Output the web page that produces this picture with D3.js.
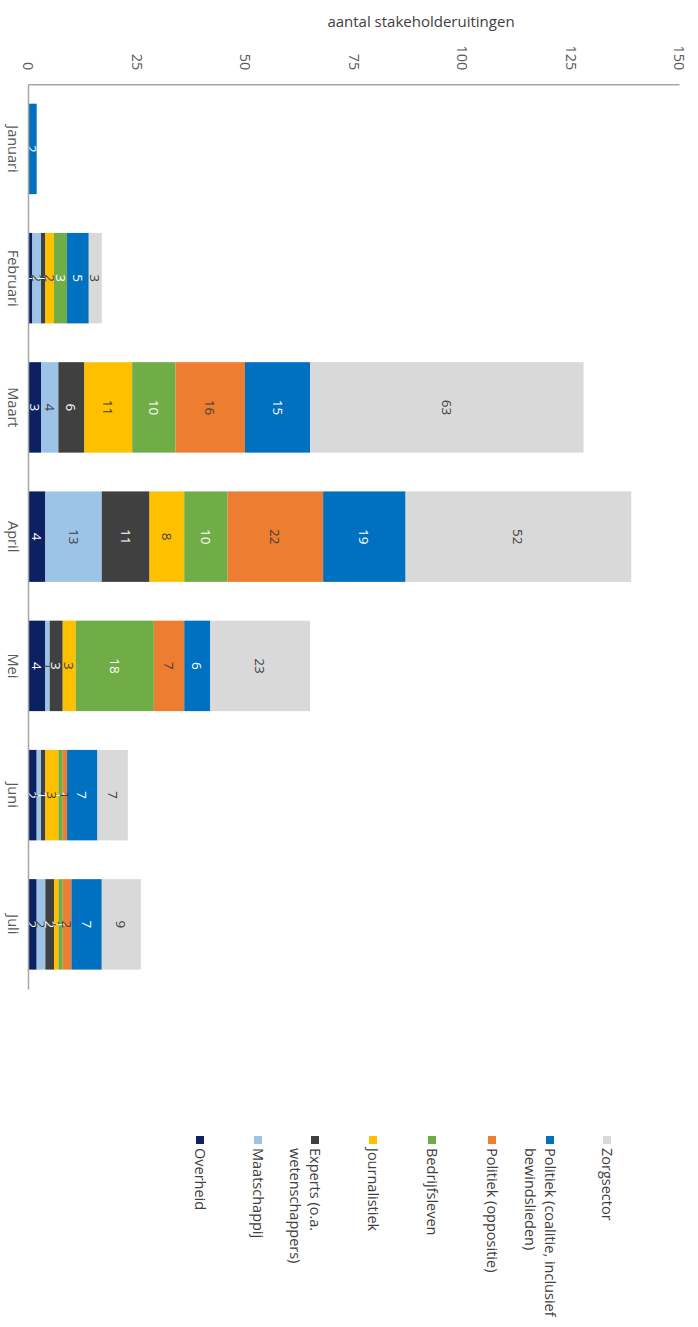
<!DOCTYPE html>
<html>
<head>
<meta charset="utf-8">
<script src="https://cdn.jsdelivr.net/npm/d3@7"></script>
<style>
  html, body { margin: 0; padding: 0; background: #ffffff; }
  svg { display: block; font-family: "Open Sans", "Noto Sans", sans-serif; }
</style>
</head>
<body>
<svg id="chart" width="698" height="1327"></svg>
<script>
// ---- Data ----
const months = ["Januari", "Februari", "Maart", "April", "Mei", "Juni", "Juli"];
const seriesNames = ["Overheid", "Maatschappij", "Experts (o.a. wetenschappers)", "Journalistiek", "Bedrijfsleven", "Politiek (oppositie)", "Politiek (coalitie, inclusief bewindslieden)", "Zorgsector"];
const legendLines = [["Overheid"], ["Maatschappij"], ["Experts (o.a.", "wetenschappers)"], ["Journalistiek"], ["Bedrijfsleven"], ["Politiek (oppositie)"], ["Politiek (coalitie, inclusief", "bewindslieden)"], ["Zorgsector"]];
const overheid      = [0, 1, 3, 4, 4, 2, 2];
const maatschappij  = [0, 2, 4, 13, 1, 1, 2];
const experts       = [0, 1, 6, 11, 3, 1, 2];
const journalistiek = [0, 2, 11, 8, 3, 3, 1];
const bedrijfsleven = [0, 3, 10, 10, 18, 1, 1];
const oppositie     = [0, 0, 16, 22, 7, 1, 2];
const coalitie      = [2, 5, 15, 19, 6, 7, 7];
const zorgsector    = [0, 3, 63, 52, 23, 7, 9];
const tickValues = [0, 25, 50, 75, 100, 125, 150];
const axisTitle = "aantal stakeholderuitingen";

const seriesValues = [overheid, maatschappij, experts, journalistiek, bedrijfsleven, oppositie, coalitie, zorgsector];
const colors = ["#0B2161", "#9DC3E6", "#404040", "#FFC000", "#70AD47", "#ED7D31", "#0070C0", "#D9D9D9"];
const labelColors = ["#ffffff", "#404040", "#ffffff", "#404040", "#ffffff", "#404040", "#ffffff", "#404040"];

// ---- Build table ----
const table = months.map((m, i) => {
  const row = { month: m };
  seriesNames.forEach((s, k) => { row[s] = seriesValues[k][i]; });
  return row;
});
const stacked = d3.stack().keys(seriesNames)(table);

const svg = d3.select("#chart");

const x = d3.scaleLinear().domain([0, 150]).range([28, 679]);
const y = d3.scaleBand().domain(months).range([84.3, 989]).paddingInner(0.3).paddingOuter(0.15);

// Title
svg.append("text")
  .attr("x", 421).attr("y", 21)
  .attr("text-anchor", "middle").attr("dominant-baseline", "central")
  .attr("fill", "#404040").style("font-size", "15px")
  .text(axisTitle);

// Bars
const layers = svg.append("g").selectAll("g")
  .data(stacked).join("g")
  .attr("fill", (d, i) => colors[i]);

layers.selectAll("rect")
  .data(d => d.map(v => ({ v, key: d.key })))
  .join("rect")
  .attr("x", d => x(d.v[0]))
  .attr("y", d => y(d.v.data.month))
  .attr("width", d => Math.max(0, x(d.v[1]) - x(d.v[0])))
  .attr("height", y.bandwidth());

// Segment labels
const labelG = svg.append("g").style("font-size", "13.5px");
stacked.forEach((layer, k) => {
  layer.forEach(v => {
    const val = v[1] - v[0];
    if (val <= 0) return;
    const cx = (x(v[0]) + x(v[1])) / 2;
    const cy = y(v.data.month) + y.bandwidth() / 2;
    labelG.append("text")
      .attr("transform", `translate(${cx},${cy}) rotate(90)`)
      .attr("text-anchor", "middle").attr("dominant-baseline", "central")
      .attr("fill", labelColors[k])
      .text(val);
  });
});

// Value axis (top)
const xAxis = svg.append("g")
  .attr("transform", "translate(0,84.3)")
  .call(d3.axisTop(x).tickValues(tickValues).tickSize(0).tickFormat(d3.format("d")));
xAxis.select(".domain").attr("stroke", "#a6a6a6").attr("stroke-width", 1.5);
xAxis.selectAll("text")
  .attr("x", 0).attr("y", 0).attr("dy", null)
  .attr("transform", "translate(0,-14) rotate(90)")
  .attr("text-anchor", "end").attr("dominant-baseline", "central")
  .attr("fill", "#595959").style("font-size", "14.5px").style("font-family", "Open Sans, sans-serif");

// Category axis (left)
const yAxis = svg.append("g")
  .attr("transform", "translate(28,0)")
  .call(d3.axisLeft(y).tickSize(0));
yAxis.select(".domain").attr("stroke", "#a6a6a6").attr("stroke-width", 1.5);
yAxis.selectAll("text")
  .attr("x", 0).attr("dy", null)
  .attr("transform", "translate(-15,0) rotate(90)")
  .attr("text-anchor", "middle").attr("dominant-baseline", "central")
  .attr("fill", "#595959").style("font-size", "14.5px").style("font-family", "Open Sans, sans-serif");

// Legend
const legendX = [200, 258, 315, 373, 432, 492, 550, 607];
const legend = svg.append("g").style("font-size", "14.5px");
seriesNames.forEach((s, k) => {
  const lx = legendX[k];
  legend.append("rect")
    .attr("x", lx - 4).attr("y", 1136).attr("width", 8).attr("height", 8)
    .attr("fill", colors[k]);
  legendLines[k].forEach((line, j) => {
    legend.append("text")
      .attr("transform", `translate(${lx - j * 20},1148) rotate(90)`)
      .attr("text-anchor", "start").attr("dominant-baseline", "central")
      .attr("fill", "#404040")
      .text(line);
  });
});
</script>
</body>
</html>
